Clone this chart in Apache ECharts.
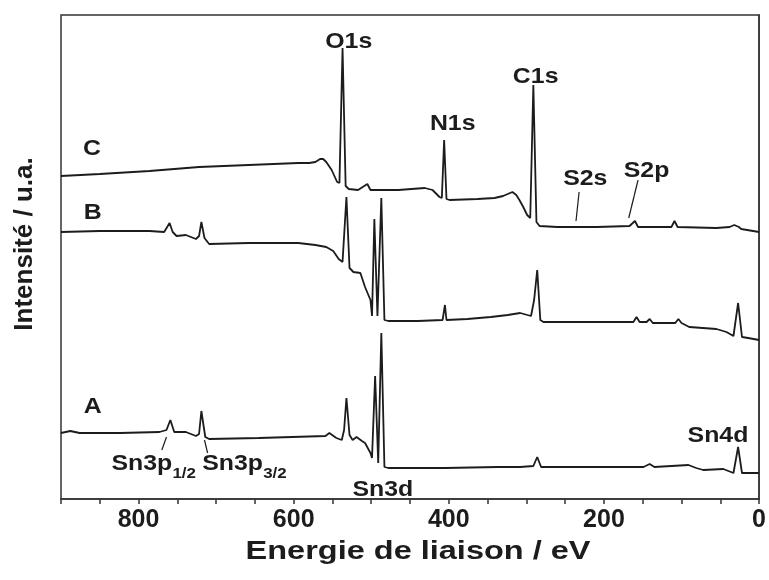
<!DOCTYPE html>
<html>
<head>
<meta charset="utf-8">
<title>XPS – spectres généraux</title>
<script src="https://cdn.jsdelivr.net/npm/echarts@6/dist/echarts.min.js"></script>
<style>
  html, body { margin: 0; padding: 0; background: #fff; }
  #chart { width: 769px; height: 580px; }
</style>
</head>
<body>
<div id="chart"></div>
<script>
// Survey spectra (binding energy in eV, intensity in arbitrary units, curves stacked)
const energyC = [900, 850, 786, 722, 658, 594, 580, 572, 566, 562, 558, 551, 544, 541, 537, 533, 529, 517, 505, 501, 465, 431, 421, 412, 409, 406, 403, 399, 363, 341, 330, 324, 318, 313, 309, 304, 299, 295, 291, 287, 283, 260, 209, 167, 160, 156, 113, 109, 105, 55, 38, 32, 26, 23, 0];
const intensityC = [323, 325, 328, 332, 334, 336, 336, 337, 340, 340, 337, 329, 317, 316, 451, 313, 310, 309, 315, 309, 309, 311, 309, 302, 301, 359, 300, 299, 300, 301, 303, 305, 307, 304, 299, 292, 284, 281, 414, 277, 273, 272, 272, 273, 278, 272, 272, 278, 272, 271, 272, 274, 272, 270, 267];

const energyB = [900, 850, 786, 767, 760, 756, 751, 739, 726, 722, 719, 715, 709, 658, 594, 572, 558, 549, 542, 537, 532, 528, 523, 514, 508, 501, 499, 496, 492, 490, 487, 483, 478, 440, 408, 405, 403, 376, 346, 324, 308, 294, 290, 286, 282, 278, 209, 162, 158, 154, 145, 141, 137, 108, 104, 100, 90, 55, 42, 33, 27, 22, 14, 0];
const intensityB = [267, 268, 268, 267, 276, 267, 263, 264, 260, 263, 277, 261, 255, 256, 256, 254, 252, 248, 240, 237, 302, 231, 227, 226, 212, 199, 183, 280, 183, 181, 301, 179, 178, 178, 179, 194, 179, 180, 182, 184, 186, 183, 199, 229, 179, 177, 177, 177, 182, 177, 177, 180, 176, 176, 180, 176, 172, 170, 167, 163, 196, 162, 161, 159];

const energyA = [900, 888, 876, 824, 773, 764, 759, 754, 739, 726, 722, 719, 714, 709, 645, 559, 554, 545, 538, 535, 532, 528, 524, 519, 512, 508, 501, 499, 495, 491, 487, 483, 478, 405, 337, 308, 291, 286, 281, 209, 149, 141, 135, 91, 81, 72, 46, 33, 27, 22, 0];
const intensityA = [66, 68, 66, 66, 67, 69, 79, 67, 67, 63, 65, 88, 62, 60, 61, 63, 66, 61, 59, 69, 101, 64, 59, 62, 58, 56, 46, 41, 123, 36, 166, 32, 31, 31, 32, 32, 33, 42, 32, 32, 32, 35, 32, 34, 31, 29, 30, 26, 52, 26, 26];

// Axis ticks
const xTickLabels = [0, 200, 400, 600, 800];

// Peak and curve annotations, placed in data coordinates
const peakNames = ['O1s', 'N1s', 'C1s', 'S2s', 'S2p', 'Sn3d', 'Sn4d', 'C', 'B', 'A'];
const peakNameEnergy = [529, 395, 288, 224, 145, 485, 53, 860, 859, 859];
const peakNameIntensity = [457, 375, 422, 320, 328, 9, 63, 350, 286, 92];

// Sn3p labels with subscripts: main text left edge + subscript
const sn3pMain = ['Sn3p', 'Sn3p'];
const sn3pSub = ['1/2', '3/2'];
const sn3pEnergy = [835, 718];
const sn3pIntensity = [35, 35];

// Leader lines [E1, I1, E2, I2]
const leaders = [
  [764, 62, 770, 49],
  [715, 59, 711, 46],
  [232, 307, 236, 278],
  [156, 319, 168, 281]
];

const FONT = '"Liberation Sans", Arial, Helvetica, sans-serif';
const INK = '#1c1c1c';
const LABEL_STRETCH = 1.13;
const TITLE_STRETCH = 1.25;

const toPairs = (xs, ys) => xs.map((x, i) => [x, ys[i]]);

const chart = echarts.init(document.getElementById('chart'), null, { renderer: 'canvas' });

const lineSeries = (name, xs, ys) => ({
  name: name,
  type: 'line',
  data: toPairs(xs, ys),
  showSymbol: false,
  symbol: 'none',
  smooth: false,
  lineStyle: { color: INK, width: 1.8 },
  silent: true
});

chart.setOption({
  animation: false,
  backgroundColor: '#ffffff',
  grid: {
    left: 61, right: 6, top: 15, bottom: 81,
    show: true, borderColor: '#333', borderWidth: 1.5, backgroundColor: 'transparent'
  },
  xAxis: {
    type: 'value',
    min: 0, max: 900, interval: 50,
    inverse: true,
    axisLine: { show: true, lineStyle: { color: '#333', width: 1.5 } },
    axisTick: { show: true, inside: false, length: 5, lineStyle: { color: '#333', width: 1.5 } },
    axisLabel: {
      margin: 9,
      fontFamily: FONT, fontWeight: 'bold', fontSize: 25, color: INK,
      formatter: v => (xTickLabels.indexOf(v) >= 0 ? String(v) : '')
    },
    splitLine: { show: false }
  },
  yAxis: {
    type: 'value',
    min: 0, max: 484,
    axisLine: { show: true, lineStyle: { color: '#333', width: 1.5 } },
    axisTick: { show: false },
    axisLabel: { show: false },
    splitLine: { show: false }
  },
  series: [
    lineSeries('C', energyC, intensityC),
    lineSeries('B', energyB, intensityB),
    lineSeries('A', energyA, intensityA)
  ]
});

// Annotation layer, positioned through the chart's own coordinate conversion
const px = (e, i) => chart.convertToPixel({ gridIndex: 0 }, [e, i]);
const graphics = [];

const boldText = (x, y, text, size, align, stretch, rotation) => ({
  type: 'text', x: x, y: y, scaleX: stretch, rotation: rotation || 0, silent: true,
  style: {
    text: text, fill: INK, fontFamily: FONT, fontWeight: 'bold', fontSize: size,
    align: align, verticalAlign: 'middle'
  }
});

peakNames.forEach((t, k) => {
  const p = px(peakNameEnergy[k], peakNameIntensity[k]);
  graphics.push(boldText(p[0], p[1], t, 22, 'center', LABEL_STRETCH));
});

sn3pMain.forEach((t, k) => {
  const p = px(sn3pEnergy[k], sn3pIntensity[k]);
  graphics.push(boldText(p[0], p[1], t, 22, 'left', LABEL_STRETCH));
  graphics.push(boldText(p[0] + 61, p[1] + 10, sn3pSub[k], 15, 'left', LABEL_STRETCH));
});

leaders.forEach(l => {
  const a = px(l[0], l[1]);
  const b = px(l[2], l[3]);
  graphics.push({
    type: 'line', silent: true,
    shape: { x1: a[0], y1: a[1], x2: b[0], y2: b[1] },
    style: { stroke: INK, lineWidth: 1.2 }
  });
});

// Axis titles
const corner0 = px(900, 0);
const corner1 = px(0, 484);
graphics.push(boldText((corner0[0] + corner1[0]) / 2 + 8, corner0[1] + 53,
  'Energie de liaison / eV', 26, 'center', TITLE_STRETCH));
graphics.push(boldText(corner0[0] - 36, (corner0[1] + corner1[1]) / 2 - 13,
  'Intensité / u.a.', 26, 'center', 1, Math.PI / 2));

chart.setOption({ graphic: graphics });
</script>
</body>
</html>
